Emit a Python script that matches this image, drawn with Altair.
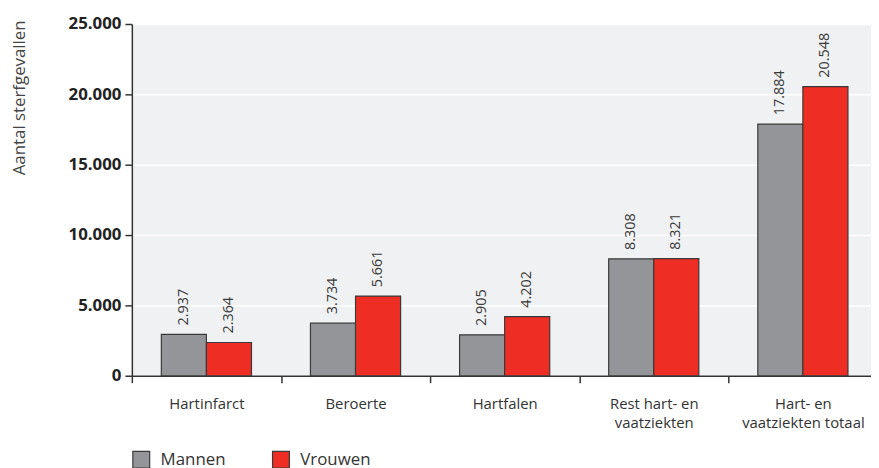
import altair as alt
import pandas as pd

categories = ["Hartinfarct", "Beroerte", "Hartfalen",
              "Rest hart- en|vaatziekten", "Hart- en|vaatziekten totaal"]
mannen = [2937, 3734, 2905, 8308, 17884]
vrouwen = [2364, 5661, 4202, 8321, 20548]
series = ["Mannen", "Vrouwen"]
colors = ["#939598", "#ee2e24"]
y_ticks = [0, 5000, 10000, 15000, 20000, 25000]

rows = []
for c, m, v in zip(categories, mannen, vrouwen):
    rows.append({"cat": c, "sex": series[0], "value": m})
    rows.append({"cat": c, "sex": series[1], "value": v})
df = pd.DataFrame(rows)

FONT = "Open Sans"
DARK = "#333333"

x_enc = alt.X(
    "cat:N", sort=categories, title=None,
    scale=alt.Scale(range=[0, 752.5], paddingInner=0, paddingOuter=0),
    axis=alt.Axis(labelAngle=0, labelExpr="split(datum.label, '|')",
                  tickBand="extent", domainColor=DARK, domainWidth=1.5,
                  tickColor=DARK, tickWidth=1.5, tickSize=7, labelPadding=14,
                  labelFont=FONT, labelFontSize=15, labelColor=DARK,
                  labelLineHeight=19, grid=False),
)
y_enc = alt.Y(
    "value:Q",
    scale=alt.Scale(domain=[0, 25000], nice=False),
    axis=alt.Axis(values=y_ticks, format=",d", title="Aantal sterfgevallen",
                  titleAngle=270, titleX=-113, titleY=74, titleAlign="center",
                  titleBaseline="middle", titleFont=FONT, titleFontSize=17,
                  titleFontWeight="normal", titleColor="#444444",
                  domainColor=DARK, domainWidth=1.5, tickColor=DARK,
                  tickWidth=1.5, tickSize=7, labelPadding=4,
                  labelFont=FONT, labelFontSize=17, labelFontWeight="bold",
                  labelColor="#222222", grid=True, gridColor="#ffffff",
                  gridWidth=1.5),
)
xo = alt.XOffset("sex:N", sort=series,
                 scale=alt.Scale(paddingInner=0, paddingOuter=0.654))

base = alt.Chart(df).encode(x=x_enc, y=y_enc, xOffset=xo)

bars = base.mark_bar(stroke="#3a3a3a", strokeWidth=1.2).encode(
    color=alt.Color("sex:N", sort=series,
                    scale=alt.Scale(domain=series, range=colors),
                    legend=alt.Legend(orient="none", legendX=0, legendY=430,
                                      direction="horizontal", title=None,
                                      symbolType="square", symbolSize=289,
                                      symbolStrokeColor="#3a3a3a",
                                      symbolStrokeWidth=1.2, symbolOpacity=1,
                                      labelFont=FONT, labelFontSize=17,
                                      labelColor=DARK, labelOffset=10,
                                      columnPadding=44, padding=0))
)

labels = base.mark_text(angle=270, align="left", baseline="middle", dx=9,
                        font=FONT, fontSize=14.5, color="#3a3a3a").encode(
    text=alt.Text("value:Q", format=",d")
)

chart = (bars + labels).properties(
    width=746, height=355,
    autosize=alt.AutoSizeParams(type="none"),
    padding={"left": 125, "top": 14, "right": 0, "bottom": 95},
).configure(
    locale={"number": {"decimal": ",", "thousands": ".", "grouping": [3],
                       "currency": ["€", ""]}}
).configure_view(fill="#f0f1f3", strokeWidth=0)

chart.save("out.html", embed_options={"renderer": "svg", "actions": False})
